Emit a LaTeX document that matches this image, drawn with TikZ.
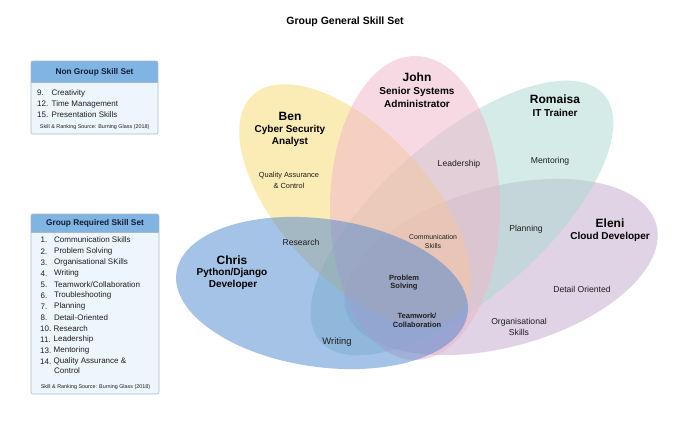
\documentclass[tikz,border=0pt]{standalone}
\usepackage{fontspec}
\setmainfont{Liberation Sans}
\definecolor{cyel}{RGB}{249,217,109}
\definecolor{cpnk}{RGB}{241,181,201}
\definecolor{cgrn}{RGB}{171,217,209}
\definecolor{cpur}{RGB}{195,169,205}
\definecolor{cblu}{RGB}{77,135,209}
\definecolor{boxhead}{RGB}{128,180,226}
\definecolor{boxbody}{RGB}{238,246,253}
\definecolor{boxline}{RGB}{170,184,198}
\definecolor{txt}{RGB}{30,30,30}
\definecolor{headtxt}{RGB}{20,28,50}
\tikzset{
  petal/.style={opacity=0.5},
  titletxt/.style={inner sep=0, font=\fontsize{10.5}{12}\selectfont\bfseries, text=black},
  nametxt/.style={inner sep=0, font=\fontsize{12}{13}\selectfont\bfseries, text=black},
  roletxt/.style={inner sep=0, font=\fontsize{10}{11}\selectfont\bfseries, text=black},
  skilltxt/.style={inner sep=0, font=\fontsize{8.6}{10}\selectfont, text=txt},
  smallskill/.style={inner sep=0, font=\fontsize{7.4}{9}\selectfont, text=txt},
  boldskill/.style={inner sep=0, font=\fontsize{7.5}{9}\selectfont\bfseries, text=txt},
  commtxt/.style={inner sep=0, font=\fontsize{6.9}{8}\selectfont, text=txt},
  boxframe/.style={draw=boxline, line width=0.6pt, rounded corners=2pt},
  boxtitle/.style={inner sep=0, font=\fontsize{8.3}{10}\selectfont\bfseries, text=headtxt},
  listnum/.style={inner sep=0, anchor=west, font=\fontsize{8}{9}\selectfont, text=txt},
  listitem/.style={inner sep=0, anchor=west, font=\fontsize{8}{9}\selectfont, text=txt},
  srctxt/.style={inner sep=0, font=\fontsize{5.4}{6}\selectfont, text=txt}
}
\begin{document}
\begin{tikzpicture}[x=1pt,y=-1pt]
\useasboundingbox (0,0) rectangle (690,422);
\fill[white] (0,0) rectangle (690,422);

% title
\node[titletxt] (title) at (345,22) {Group General Skill Set};

% ellipses
\fill[cpur, petal, rotate around={15.3:(501,267)}] (501,267) ellipse [x radius=161, y radius=80];
\fill[cgrn, petal, rotate around={41:(462,218)}] (462,218) ellipse [x radius=188, y radius=80];
\fill[cyel, petal, rotate around={-47:(355,205)}] (355,205) ellipse [x radius=150, y radius=74];
\fill[cpnk, petal] (415,208) ellipse [x radius=85, y radius=152];
\fill[cblu, petal, rotate around={-8:(322,293)}] (322,293) ellipse [x radius=147, y radius=74];

% Ben
\node[nametxt] (benN) at (290,116) {Ben};
\node[roletxt] (benR1) at (290,130) {Cyber Security};
\node[roletxt] (benR2) at (290,142) {Analyst};
\node[smallskill] (qa1) at (289,176) {Quality Assurance};
\node[smallskill] (qa2) at (289,185.5) {\& Control};

% John
\node[nametxt] (johnN) at (417,77) {John};
\node[roletxt] (johnR1) at (417,91.5) {Senior Systems};
\node[roletxt] (johnR2) at (417,103.5) {Administrator};
\node[skilltxt] (lead) at (459,164) {Leadership};

% Romaisa
\node[nametxt] (romN) at (555,99) {Romaisa};
\node[roletxt] (romR) at (555,113) {IT Trainer};
\node[skilltxt] (ment) at (550,161) {Mentoring};
\node[skilltxt] (plan) at (526,229) {Planning};

% Eleni
\node[nametxt] (eleN) at (610,223) {Eleni};
\node[roletxt] (eleR) at (610,237) {Cloud Developer};
\node[skilltxt] (detail) at (582,289) {Detail Oriented};
\node[skilltxt] (org1) at (519,322) {Organisational};
\node[skilltxt] (org2) at (519,332) {Skills};

% Chris
\node[nametxt] (chrN) at (232,260) {Chris};
\node[roletxt] (chrR1) at (232,273) {Python/Django};
\node[roletxt] (chrR2) at (233,284.5) {Developer};
\node[skilltxt] (res) at (301,242) {Research};
\node[skilltxt, font=\fontsize{9.4}{10}\selectfont] (writ) at (337,342) {Writing};

% center
\node[commtxt] (comm1) at (433,237) {Communication};
\node[commtxt] (comm2) at (433,246) {Skills};
\node[boldskill] (ps1) at (404,278) {Problem};
\node[boldskill] (ps2) at (404,287) {Solving};
\node[boldskill] (tw1) at (417,316) {Teamwork/};
\node[boldskill] (tw2) at (417,325) {Collaboration};

% box 1
\begin{scope}
  \clip[rounded corners=2pt] (31,61) rectangle (158,134);
  \fill[boxbody] (31,61) rectangle (158,134);
  \fill[boxhead] (31,61) rectangle (158,82);
\end{scope}
\draw[boxline, line width=0.5pt] (31,82) -- (158,82);
\draw[boxframe] (31,61) rectangle (158,134);
\node[boxtitle] (b1t) at (94.5,72) {Non Group Skill Set};
\node[listnum] (b1n1) at (37,93) {9.};
\node[listitem] (b1i1) at (51.5,93) {Creativity};
\node[listnum] (b1n2) at (37,104) {12.};
\node[listitem] (b1i2) at (51.5,104) {Time Management};
\node[listnum] (b1n3) at (37,115) {15.};
\node[listitem] (b1i3) at (51.5,115) {Presentation Skills};
\node[srctxt] (b1s) at (94.7,127) {Skill \& Ranking Source: Burning Glass (2018)};

% box 2
\begin{scope}
  \clip[rounded corners=2pt] (31,214) rectangle (159,394);
  \fill[boxbody] (31,214) rectangle (159,394);
  \fill[boxhead] (31,214) rectangle (159,232);
\end{scope}
\draw[boxline, line width=0.5pt] (31,232) -- (159,232);
\draw[boxframe] (31,214) rectangle (159,394);
\node[boxtitle] (b2t) at (95,223) {Group Required Skill Set};
\node[listnum] (b2n1) at (40.5,240) {1.};
\node[listitem] (b2i1) at (54,240) {Communication Skills};
\node[listnum] (b2n2) at (40.5,251.5) {2.};
\node[listitem] (b2i2) at (54,251.5) {Problem Solving};
\node[listnum] (b2n3) at (40.5,262.5) {3.};
\node[listitem] (b2i3) at (54,262.5) {Organisational SKills};
\node[listnum] (b2n4) at (40.5,273.7) {4.};
\node[listitem] (b2i4) at (54,273.7) {Writing};
\node[listnum] (b2n5) at (40.5,284.7) {5.};
\node[listitem] (b2i5) at (54,284.7) {Teamwork/Collaboration};
\node[listnum] (b2n6) at (40.5,295.7) {6.};
\node[listitem] (b2i6) at (54,295.7) {Troubleshooting};
\node[listnum] (b2n7) at (40.5,306.7) {7.};
\node[listitem] (b2i7) at (54,306.7) {Planning};
\node[listnum] (b2n8) at (40.5,317.5) {8.};
\node[listitem] (b2i8) at (54,317.5) {Detail-Oriented};
\node[listnum] (b2n10) at (40,328.5) {10.};
\node[listitem] (b2i10) at (53.5,328.5) {Research};
\node[listnum] (b2n11) at (40,339.5) {11.};
\node[listitem] (b2i11) at (53.5,339.5) {Leadership};
\node[listnum] (b2n13) at (40,350.5) {13.};
\node[listitem] (b2i13) at (53.5,350.5) {Mentoring};
\node[listnum] (b2n14) at (40,361.5) {14.};
\node[listitem] (b2i14) at (53.5,361.5) {Quality Assurance \&};
\node[listitem] (b2i14b) at (54,371) {Control};
\node[srctxt] (b2s) at (95.5,387.5) {Skill \& Ranking Source: Burning Glass (2018)};
\end{tikzpicture}
\end{document}
